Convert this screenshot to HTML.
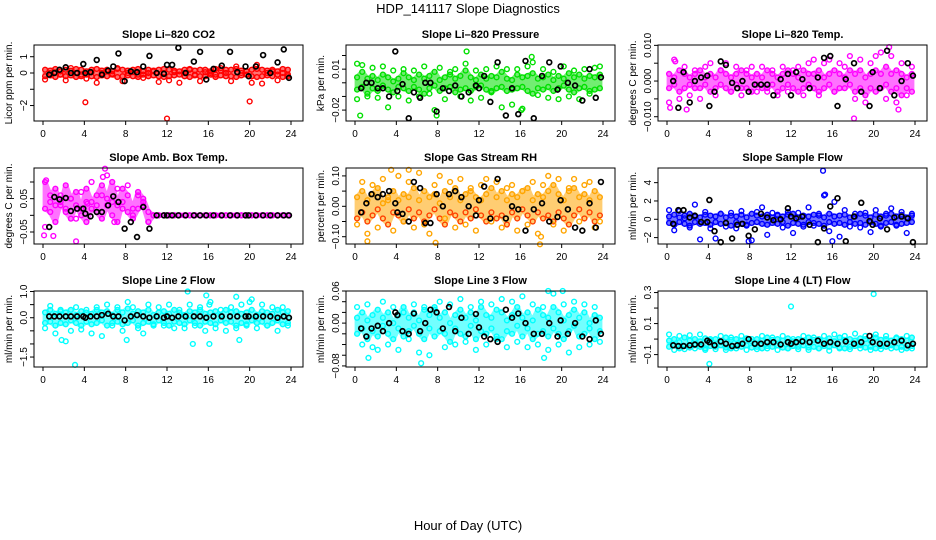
<!DOCTYPE html>
<html><head><meta charset="utf-8">
<style>
html,body{margin:0;padding:0;background:#fff;}
svg{display:block;font-family:"Liberation Sans",sans-serif;}
</style></head>
<body>
<svg id="chart" width="936" height="540" viewBox="0 0 936 540" xmlns="http://www.w3.org/2000/svg">
<rect width="936" height="540" fill="#fff"/>
<text x="468" y="13" font-size="13" text-anchor="middle">HDP_141117  Slope Diagnostics</text>
<text x="468" y="530" font-size="13" text-anchor="middle">Hour of Day (UTC)</text>
</svg>
<script>
const T=[0.2,0.7,1.2,1.7,2.2,2.7,3.2,3.7,4.2,4.7,5.2,5.7,6.2,6.7,7.2,7.7,8.2,8.7,9.2,9.7,10.2,10.7,11.2,11.7,12.2,12.7,13.2,13.7,14.2,14.7,15.2,15.7,16.2,16.7,17.2,17.7,18.2,18.7,19.2,19.7,20.2,20.7,21.2,21.7,22.2,22.7,23.2,23.7];
const BT=[0.6,1.1,1.6,2.2,2.7,3.3,3.9,4.1,4.6,5.2,5.7,6.3,6.8,7.3,7.9,8.5,9.1,9.7,10.3,11.0,11.7,12.0,12.5,13.1,13.8,14.6,15.2,15.8,16.5,17.3,18.1,18.8,19.6,19.9,20.6,21.3,22.0,22.7,23.3,23.8];
const xTicks=[0,4,8,12,16,20,24];

const co2A=[0.2,0.15,0.25,0.1,0.2,0.15,0.25,0.2,0.1,0.2,0.25,0.15,0.2,0.1,0.25,0.2,0.15,0.2,0.25,0.1,0.2,0.15,0.2,0.25,0.2,0.15,0.1,0.2,0.25,0.15,0.2,0.2,0.1,0.25,0.15,0.2,0.2,0.25,0.15,0.1,0.2,0.25,0.2,0.15,0.2,0.1,0.25,0.2];
const co2B=[-0.2,-0.15,-0.25,-0.1,-0.2,-0.15,-0.25,-0.2,-0.1,-0.2,-0.25,-0.15,-0.2,-0.1,-0.25,-0.2,-0.15,-0.2,-0.25,-0.1,-0.2,-0.15,-0.2,-0.25,-0.2,-0.15,-0.1,-0.2,-0.25,-0.15,-0.2,-0.2,-0.1,-0.25,-0.15,-0.2,-0.2,-0.25,-0.15,-0.1,-0.2,-0.25,-0.2,-0.15,-0.2,-0.1,-0.25,-0.2];
const co2C=[-0.4,0,0.05,-0.1,-0.45,0.3,0,-0.1,-0.35,0.05,-0.6,0,0.1,-0.05,0.3,-0.5,0,0.05,-0.1,-0.3,0,0.1,-0.55,0,-0.45,0.05,-0.6,0,0.2,-0.1,-0.5,0.05,0,-0.1,0.3,0,-0.5,0.4,0,-0.1,-0.6,0.5,-0.65,0,0.1,-0.45,0,-0.1];
const co2OX=[4.1,12,20];
const co2OY=[-1.8,-2.8,-1.75];
const co2Black=[-0.1,0,0.2,0.35,0,0,0.55,0,0.05,0.8,-0.1,0.15,0.4,1.2,-0.5,0.1,0.05,0.4,1.05,0,-0.05,0.5,0.5,1.55,0,0.7,1.3,-0.4,0.25,0.45,1.3,0.05,0.4,-0.2,0.4,1.1,0,0.65,1.45,-0.3];

const prA=[0.004,0.008,0.003,0.005,0.002,0.006,0.004,0.001,0.003,0.007,0.004,0.002,0.006,0.003,0.005,0.008,0.002,0.004,0.006,0.003,0.005,0.009,0.004,0.002,0.006,0.003,0.005,0.004,0.008,0.003,0.002,0.006,0.004,0.005,0.007,0.003,0.004,0.006,0.002,0.005,0.003,0.007,0.004,0.006,0.003,0.005,0.004,0.006];
const prB=[-0.005,-0.003,-0.008,-0.004,-0.006,-0.002,-0.005,-0.007,-0.003,-0.004,-0.006,-0.003,-0.005,-0.008,-0.004,-0.002,-0.006,-0.004,-0.003,-0.007,-0.005,-0.004,-0.006,-0.003,-0.002,-0.005,-0.007,-0.004,-0.003,-0.006,-0.005,-0.004,-0.003,-0.006,-0.008,-0.004,-0.005,-0.003,-0.006,-0.004,-0.002,-0.005,-0.007,-0.004,-0.003,-0.006,-0.005,-0.004];
const prC=[-0.012,0.013,-0.01,0.011,-0.011,0.012,-0.018,0.009,-0.01,0.01,-0.013,0.009,-0.01,0.012,-0.008,-0.02,0.011,-0.012,0.008,0.01,-0.01,0.014,-0.013,0.009,-0.011,0.01,-0.006,0.012,-0.018,0.01,-0.016,0.01,-0.019,0.012,0.015,-0.009,0.01,-0.011,0.008,-0.012,0.012,-0.01,0.009,-0.012,0.01,-0.008,0.011,0.012];
const prOX=[0.2,0.5,10.8,17.1,7.9,16.1];
const prOY=[0.014,-0.024,0.023,0.019,-0.024,-0.02];
const prBlack=[-0.004,0,0,-0.004,-0.004,-0.01,0.023,-0.006,-0.001,-0.026,-0.007,-0.011,0,0,-0.021,-0.004,-0.006,-0.002,-0.01,-0.007,-0.002,-0.004,0.005,-0.014,0.015,-0.024,-0.004,-0.023,0.016,-0.026,0.005,0.015,-0.005,0.012,0,-0.002,-0.013,0.01,-0.011,0.004];

const tpA=[0.002,0.001,0.003,0.002,0.001,0.002,0.003,0.001,0.002,0.001,0.003,0.002,0.001,0.002,0.003,0.002,0.001,0.002,0.001,0.003,0.002,0.001,0.002,0.003,0.002,0.001,0.003,0.002,0.002,0.003,0.001,0.002,0.003,0.002,0.001,0.003,0.002,0.003,0.001,0.002,0.003,0.002,0.004,0.002,0.003,0.002,0.001,0.002];
const tpB=[-0.002,-0.001,-0.003,-0.002,-0.001,-0.002,-0.002,-0.001,-0.003,-0.002,-0.001,-0.002,-0.003,-0.001,-0.002,-0.002,-0.003,-0.001,-0.002,-0.002,-0.001,-0.003,-0.002,-0.001,-0.002,-0.003,-0.002,-0.001,-0.002,-0.003,-0.002,-0.001,-0.003,-0.002,-0.002,-0.001,-0.003,-0.002,-0.004,-0.002,-0.003,-0.002,-0.001,-0.003,-0.002,-0.004,-0.002,-0.003];
const tpC=[-0.006,0.006,-0.005,0.004,-0.004,0.003,-0.005,0.004,0.005,-0.004,0.003,0.005,-0.003,0.004,-0.004,0.003,0.004,-0.003,0.004,-0.003,0.003,-0.004,0.004,-0.003,0.003,0.004,-0.004,0.005,0.006,-0.004,0.005,0.006,-0.003,0.005,0.004,0.007,-0.005,0.006,-0.006,0.005,0.007,0.008,-0.005,0.007,-0.006,0.005,-0.004,0.004];
const tpOX=[0.3,1.9,18.1,21.5,22.4,0.8];
const tpOY=[-0.0075,-0.008,-0.0105,0.0095,-0.008,0.0055];
const tpBlack=[0,-0.0075,0.0025,-0.006,0,0.001,0.0015,-0.007,-0.003,0.0055,0.0045,-0.0005,-0.002,0,-0.003,-0.001,-0.001,-0.001,-0.004,0.0005,0.002,-0.004,0.0025,0.0005,-0.002,0.001,0.0065,0.007,-0.007,0.0005,0.005,-0.003,-0.007,0.0025,-0.002,0.0085,-0.004,0,0.005,0.0015];

const abA=[0.1,0.06,0.08,0.03,0.09,0.05,0.07,0.02,0.08,0.04,0.06,0.09,0.05,0.1,0.03,0.08,0.06,0.02,0.07,0.05,0.01,0,0,0,0,0,0,0,0,0,0,0,0,0,0,0,0,0,0,0,0,0,0,0,0,0,0,0];
const abB=[0.02,0.01,-0.02,0.04,0.01,-0.01,0.03,0,-0.02,0.02,0.01,-0.01,0.03,0,-0.02,0.04,0.01,-0.01,0.02,0.03,-0.02,0,0,0,0,0,0,0,0,0,0,0,0,0,0,0,0,0,0,0,0,0,0,0,0,0,0,0];
const abC=[-0.035,0.04,0.03,0.06,0.02,0.05,-0.01,0.07,0.04,0.1,0.03,0.06,0.12,0.04,0.08,0.02,0.09,0,0.06,0.04,-0.02,0,0,0,0,0,0,0,0,0,0,0,0,0,0,0,0,0,0,0,0,0,0,0,0,0,0,0];
const abOX=[0.1,1.0,3.2,6.0,4.3,6.9,0.3,5.8];
const abOY=[-0.06,-0.062,-0.078,0.14,0.035,-0.02,0.105,0.115];
const abBlack=[-0.035,0.055,0.048,0.052,0.013,0.02,0.02,0.005,-0.003,0.01,0.01,0.03,0.057,0.04,-0.04,-0.02,-0.065,0.025,-0.04,0,0,0,0,0,0,0,0,0,0,0,0,0,0,0,0,0,0,0,0,0];

const rhA=[0.03,0.05,0.02,0.04,0.06,0.01,0.03,0.05,0.02,0.04,0.03,0.06,0.02,0.05,0.03,0.04,0.01,0.05,0.03,0.06,0.02,0.04,0.05,0.03,0.02,0.04,0.06,0.03,0.05,0.02,0.04,0.03,0.05,0.06,0.02,0.04,0.03,0.05,0.07,0.04,0.02,0.05,0.06,0.03,0.04,0.02,0.05,0.03];
const rhB=[-0.04,-0.02,-0.05,-0.03,-0.01,-0.04,-0.06,-0.02,-0.03,-0.05,-0.01,-0.04,-0.02,-0.05,-0.03,-0.01,-0.04,-0.06,-0.02,-0.03,-0.05,-0.02,-0.04,-0.01,-0.03,-0.05,-0.02,-0.04,-0.03,-0.06,-0.02,-0.04,-0.01,-0.03,-0.05,-0.02,-0.04,-0.03,-0.05,-0.02,-0.04,-0.06,-0.03,-0.01,-0.04,-0.02,-0.05,-0.03];
const rhC=[-0.06,0.08,-0.09,0.07,-0.07,0.09,0.02,-0.08,0.1,-0.05,0.08,-0.07,0.11,-0.06,-0.09,0.07,0.1,-0.04,0.08,-0.07,0.09,-0.06,0.06,-0.08,0.07,0.09,-0.05,0.08,-0.07,0.06,0.07,-0.08,0.05,-0.06,0.08,-0.09,0.07,0.1,-0.06,0.09,-0.08,0.06,0.09,-0.05,0.07,0.08,-0.07,-0.05];
const rhOX=[1.2,3.5,5.2,7.8,17.9,18.0];
const rhOY=[-0.115,0.12,0.12,-0.12,-0.125,-0.1];
const rhBlack=[-0.02,0.01,0.04,0.03,0.04,0.05,0.01,-0.02,-0.025,-0.05,0.08,0.06,-0.055,-0.055,0.04,0,0.04,0.05,0.03,0,-0.03,0.02,0.065,-0.04,0.09,-0.04,0,-0.01,-0.08,-0.01,0.01,-0.05,-0.035,0.02,-0.01,-0.07,-0.08,0.01,-0.07,0.08];

const sfA=[0.3,0.5,0.2,0.4,0.6,0.3,0.2,0.5,0.4,0.3,0.6,0.2,0.4,0.3,0.5,0.2,0.6,0.4,0.3,0.5,0.2,0.4,0.3,0.5,0.6,0.2,0.4,0.3,0.5,0.4,0.2,0.6,0.3,0.4,0.5,0.2,0.3,0.6,0.4,0.2,0.5,0.3,0.4,0.6,0.3,0.5,0.2,0.4];
const sfB=[-0.4,-0.6,-0.3,-0.5,-0.7,-0.3,-0.5,-0.4,-0.6,-0.3,-0.5,-0.4,-0.7,-0.3,-0.5,-0.6,-0.4,-0.3,-0.5,-0.6,-0.4,-0.5,-0.3,-0.7,-0.4,-0.5,-0.6,-0.3,-0.4,-0.5,-0.7,-0.3,-0.5,-0.4,-0.6,-0.3,-0.5,-0.4,-0.6,-0.3,-0.5,-0.7,-0.4,-0.3,-0.6,-0.5,-0.4,-0.3];
const sfC=[1.0,-1.2,0.9,0.1,-0.9,1.6,-2.2,0.8,-1.0,-2.1,0.6,-0.8,0.7,-1.0,0.9,-0.7,-2.3,0.8,1.3,-1.7,0.7,0.5,-0.9,0.8,-1.5,0.7,-0.8,1.3,-0.7,0.6,2.6,-1.3,1.9,-1.9,1.0,-0.8,0.6,-0.9,0.7,-1.4,1.0,-0.8,0.6,1.2,-0.7,0.8,-1.5,0.6];
const sfOX=[15.1,15.3,16.0,7.9];
const sfOY=[5.3,2.7,-2.4,-2.4];
const sfBlack=[-0.5,1.0,1.0,0.2,0.4,-0.3,-0.3,2.1,-1.3,-2.5,-0.4,-2.1,-0.6,-0.5,-1.8,-1.1,0.6,0.2,-0.1,0,1.2,0.3,0.1,0.3,-0.6,-2.5,-1.0,1.4,2.3,-2.4,0.3,1.8,-0.2,-0.6,0.1,-1.1,0.2,0.3,0.1,-2.5];

const l2A=[0.2,0.3,0.15,0.25,0.2,0.3,0.1,0.25,0.2,0.15,0.3,0.2,0.25,0.1,0.3,0.2,0.35,0.15,0.25,0.2,0.3,0.1,0.2,0.25,0.15,0.3,0.2,0.1,0.25,0.2,0.3,0.15,0.2,0.25,0.1,0.3,0.2,0.25,0.15,0.2,0.3,0.1,0.25,0.2,0.15,0.3,0.2,0.25];
const l2B=[-0.2,-0.15,-0.3,-0.2,-0.25,-0.1,-0.2,-0.3,-0.15,-0.25,-0.2,-0.1,-0.3,-0.2,-0.15,-0.25,-0.2,-0.1,-0.3,-0.2,-0.15,-0.25,-0.1,-0.2,-0.3,-0.15,-0.2,-0.25,-0.1,-0.2,-0.3,-0.15,-0.2,-0.25,-0.1,-0.2,-0.15,-0.3,-0.2,-0.25,-0.1,-0.2,-0.15,-0.3,-0.2,-0.1,-0.25,-0.2];
const l2C=[-0.4,0.45,-0.6,0.3,-0.9,-0.5,0.4,-0.45,0.3,-0.6,0.4,-0.7,0.5,-0.3,0.4,-0.5,0.6,0.4,-0.4,-0.6,0.5,-0.3,0.4,-0.3,0.5,-0.4,0.3,-0.4,0.5,-0.3,0.4,-0.5,0.6,-0.4,0.3,-0.5,0.4,-0.4,0.5,-0.3,0.7,-0.4,0.5,-0.3,0.4,-0.5,0.4,-0.3];
const l2OX=[3.1,14,14.5,15.8,16.1,16.1,18.7,19,8.1,1.8,20];
const l2OY=[-1.8,1.0,-1.0,0.85,0.5,-1.0,0.8,-0.85,-0.85,-0.85,0.6];
const l2Black=[0.05,0.05,0.05,0.05,0.05,0.05,0.05,0.0,0.05,0.05,0.1,0.15,0.05,0.05,-0.1,0.05,0.1,0.05,0.0,0.05,0.0,0.05,0.0,0.05,0.05,0.05,0.05,0.0,0.05,0.05,0.05,0.05,0.05,0.05,0.05,0.05,0.05,0.0,0.05,0.0];

const l3A=[0.01,0.02,0.005,0.015,0.025,0.01,0.02,0,0.015,0.03,0.01,0.02,0.005,0.025,0.015,0.03,0.01,0.02,0,0.015,0.025,0.01,0.02,0.005,0.03,0.015,0.01,0.025,0.02,0.005,0.015,0.03,0.01,0.02,0.005,0.025,0.015,0.01,0.03,0.02,0.005,0.015,0.025,0.01,0.02,0,0.015,0.01];
const l3B=[-0.02,-0.01,-0.03,-0.015,-0.025,-0.005,-0.02,-0.03,-0.01,-0.025,-0.015,-0.005,-0.02,-0.03,-0.01,-0.025,-0.015,-0.02,-0.035,-0.01,-0.02,-0.025,-0.005,-0.03,-0.015,-0.02,-0.01,-0.025,-0.03,-0.015,-0.02,-0.005,-0.025,-0.01,-0.03,-0.02,-0.015,-0.025,-0.01,-0.02,-0.03,-0.015,-0.005,-0.025,-0.02,-0.01,-0.03,-0.015];
const l3C=[0.03,-0.04,0.035,-0.045,-0.05,0.04,-0.04,0.03,-0.05,0.02,-0.03,0.035,-0.055,0.03,-0.06,0.025,0.04,-0.045,0.035,-0.04,0.045,-0.035,0.03,-0.05,0.04,-0.04,0.035,-0.03,0.045,-0.045,0.04,-0.035,0.05,-0.045,0.035,-0.04,0.03,-0.05,0.055,-0.04,0.035,-0.055,0.04,-0.045,0.035,-0.04,0.03,-0.035];
const l3OX=[6.4,1.3,18.7,18.3,20.1];
const l3OY=[-0.075,-0.065,0.06,-0.065,0.06];
const l3Black=[-0.01,-0.025,-0.01,-0.005,-0.015,0,0.02,0.015,-0.015,-0.02,0.018,-0.015,0,0.025,0.02,-0.01,0.03,-0.015,0.01,-0.02,0.017,-0.008,-0.025,-0.03,-0.035,0.025,0.01,0.018,0,-0.02,-0.02,0,-0.025,0.005,-0.02,0,-0.025,-0.03,0.005,-0.02];

const l4A=[-0.01,0,-0.02,0.01,-0.01,0,-0.015,0.005,-0.01,0,-0.02,0.01,-0.005,0,-0.01,0.005,-0.015,0,-0.01,0.01,-0.005,0,-0.01,0.005,-0.015,0,-0.01,0.01,-0.005,0,-0.01,0.005,-0.015,0.01,-0.005,0,-0.01,0.005,0,-0.01,0.01,-0.005,0,-0.01,0.005,0,-0.01,0.01];
const l4B=[-0.05,-0.04,-0.06,-0.045,-0.055,-0.04,-0.05,-0.06,-0.045,-0.05,-0.04,-0.055,-0.06,-0.045,-0.05,-0.04,-0.055,-0.05,-0.06,-0.045,-0.05,-0.04,-0.055,-0.06,-0.045,-0.05,-0.04,-0.055,-0.05,-0.06,-0.045,-0.05,-0.04,-0.055,-0.06,-0.05,-0.045,-0.04,-0.055,-0.05,-0.06,-0.045,-0.05,-0.04,-0.055,-0.05,-0.06,-0.045];
const l4C=[0.03,-0.07,0.02,-0.065,0.025,-0.06,0.03,-0.07,0,-0.065,0.02,-0.07,0.01,-0.06,0.02,-0.07,0,-0.065,0.02,-0.06,0.01,-0.07,0.02,-0.06,0,-0.065,0.02,-0.07,0.01,-0.06,0.02,-0.075,0.03,-0.06,0.02,-0.065,0.035,-0.06,0.02,-0.07,0.03,-0.065,0.02,-0.06,0.01,-0.07,0.02,-0.06];
const l4OX=[12,20,4.1];
const l4OY=[0.21,0.29,-0.16];
const l4Black=[-0.04,-0.045,-0.045,-0.04,-0.035,-0.035,-0.01,-0.02,-0.04,-0.015,-0.03,-0.045,-0.04,-0.03,0,-0.03,-0.03,-0.02,-0.02,-0.035,-0.02,-0.03,-0.02,-0.015,-0.02,-0.01,-0.03,-0.02,-0.03,-0.015,-0.03,-0.02,0.02,-0.02,-0.03,-0.03,-0.02,-0.01,-0.04,-0.03];

const panels=[
 {name:'co2',title:'Slope Li\u2013820 CO2',yl:'Licor ppm per min.',col:0,row:0,ymin:-2.95,ymax:1.72,ticks:[-2,-1,0,1],labs:['\u22122','','0','1'],color:'#ff0000',s:[co2A,co2B,co2C],ox:co2OX,oy:co2OY,bk:co2Black},
 {name:'pressure',title:'Slope Li\u2013820 Pressure',yl:'kPa per min.',col:1,row:0,ymin:-0.028,ymax:0.0277,ticks:[-0.02,-0.01,0,0.01,0.02],labs:['\u22120.02','','','0.01',''],color:'#00e000',s:[prA,prB,prC],ox:prOX,oy:prOY,bk:prBlack},
 {name:'temp',title:'Slope Li\u2013820 Temp.',yl:'degrees C per min.',col:2,row:0,ymin:-0.0112,ymax:0.0101,ticks:[-0.01,-0.005,0,0.005,0.01],labs:['\u22120.010','','0.000','','0.010'],color:'#ff00ff',s:[tpA,tpB,tpC],ox:tpOX,oy:tpOY,bk:tpBlack},
 {name:'amb-box-temp',title:'Slope Amb. Box Temp.',yl:'degrees C per min.',col:0,row:1,ymin:-0.086,ymax:0.142,ticks:[-0.05,0,0.05,0.1],labs:['\u22120.05','','0.05',''],color:'#ff00ff',s:[abA,abB,abC],ox:abOX,oy:abOY,bk:abBlack},
 {name:'gas-rh',title:'Slope Gas Stream RH',yl:'percent per min.',col:1,row:1,ymin:-0.124,ymax:0.126,ticks:[-0.1,-0.05,0,0.05,0.1],labs:['\u22120.10','','0.00','','0.10'],color:'#ffa500',s:[rhA,rhB,rhC],ox:rhOX,oy:rhOY,bk:rhBlack,alt:'#ff4000'},
 {name:'sample-flow',title:'Slope Sample Flow',yl:'ml/min per min.',col:2,row:1,ymin:-2.7,ymax:5.6,ticks:[-2,0,2,4],labs:['\u22122','0','2','4'],color:'#0000ff',s:[sfA,sfB,sfC],ox:sfOX,oy:sfOY,bk:sfBlack},
 {name:'line2-flow',title:'Slope Line 2 Flow',yl:'ml/min per min.',col:0,row:2,ymin:-1.88,ymax:1.02,ticks:[-1.5,-1,-0.5,0,0.5,1],labs:['\u22121.5','','','0.0','','1.0'],color:'#00ffff',s:[l2A,l2B,l2C],ox:l2OX,oy:l2OY,bk:l2Black},
 {name:'line3-flow',title:'Slope Line 3 Flow',yl:'ml/min per min.',col:1,row:2,ymin:-0.082,ymax:0.06,ticks:[-0.08,-0.06,-0.04,-0.02,0,0.02,0.04,0.06],labs:['\u22120.08','','','','0.00','','','0.06'],color:'#00ffff',s:[l3A,l3B,l3C],ox:l3OX,oy:l3OY,bk:l3Black},
 {name:'line4-flow',title:'Slope Line 4 (LT) Flow',yl:'ml/min per min.',col:2,row:2,ymin:-0.18,ymax:0.31,ticks:[-0.1,0,0.1,0.2,0.3],labs:['\u22120.1','','0.1','','0.3'],color:'#00ffff',s:[l4A,l4B,l4C],ox:l4OX,oy:l4OY,bk:l4Black}
];
const NS='http://www.w3.org/2000/svg';
const svg=document.getElementById('chart');
function mk(tag,attrs,parent){const e=document.createElementNS(NS,tag);for(const k in attrs)e.setAttribute(k,attrs[k]);parent.appendChild(e);return e;}
const LEFTS=[34,346,658],TOPS=[45,168,291],W=269,H=76;
panels.forEach(p=>{
  const L=LEFTS[p.col],Tp=TOPS[p.row],B=Tp+H;
  const g=mk('g',{},svg);
  
  
  const xs=h=>L+9+h*(248/24);
  const ys=v=>B-(v-p.ymin)/(p.ymax-p.ymin)*H;
  const t=mk('text',{x:L+W/2,y:Tp-7,'font-size':11,'font-weight':'bold','text-anchor':'middle'},g);
  t.textContent=p.title;
  
  
  const yl=mk('text',{transform:`translate(${L-22},${Tp+H/2}) rotate(-90)`,'font-size':10,'text-anchor':'middle'},g);
  yl.textContent=p.yl;
  
  
  xTicks.forEach(h=>{
    mk('line',{x1:xs(h),x2:xs(h),y1:B,y2:B+4,stroke:'#000'},g);
    const tl=mk('text',{x:xs(h),y:B+16,'font-size':10,'text-anchor':'middle'},g);
    tl.textContent=h;
    
    
  });
  p.ticks.forEach((v,i)=>{
    mk('line',{x1:L-4,x2:L,y1:ys(v),y2:ys(v),stroke:'#000'},g);
    if(p.labs[i]){
      const tl=mk('text',{transform:`translate(${L-7},${ys(v)}) rotate(-90)`,'font-size':10,'text-anchor':'middle'},g);
      tl.textContent=p.labs[i];
      
      
    }
  });
  const up=p.s[0].map((v,i)=>xs(T[i]).toFixed(1)+','+ys(v).toFixed(1));
  const lo=p.s[1].map((v,i)=>xs(T[i]).toFixed(1)+','+ys(v).toFixed(1)).reverse();
  const band=mk('polygon',{points:up.concat(lo).join(' '),fill:p.color,stroke:p.color,'stroke-width':5,'stroke-linejoin':'round',opacity:0.55},g);
  
  
  const pts=mk('g',{fill:'none','stroke-width':1.4},g);
  
  
  p.s.forEach((arr,si)=>{
    arr.forEach((v,i)=>{
      const c=mk('circle',{cx:xs(T[i]),cy:ys(v),r:2.4,stroke:(p.alt&&si==1)?p.alt:p.color},pts);
      
      
    });
  });
  p.ox.forEach((h,i)=>{
    const c=mk('circle',{cx:xs(h),cy:ys(p.oy[i]),r:2.4,stroke:p.color},pts);
    
    
  });
  p.bk.forEach((v,i)=>{
    const c=mk('circle',{cx:xs(BT[i]),cy:ys(v),r:2.4,stroke:'#000','stroke-width':1.7},pts);
    
    
  });
  const box=mk('rect',{x:L,y:Tp,width:W,height:H,fill:'none',stroke:'#000','stroke-width':1},g);
  
  
});
</script>
</body></html>
